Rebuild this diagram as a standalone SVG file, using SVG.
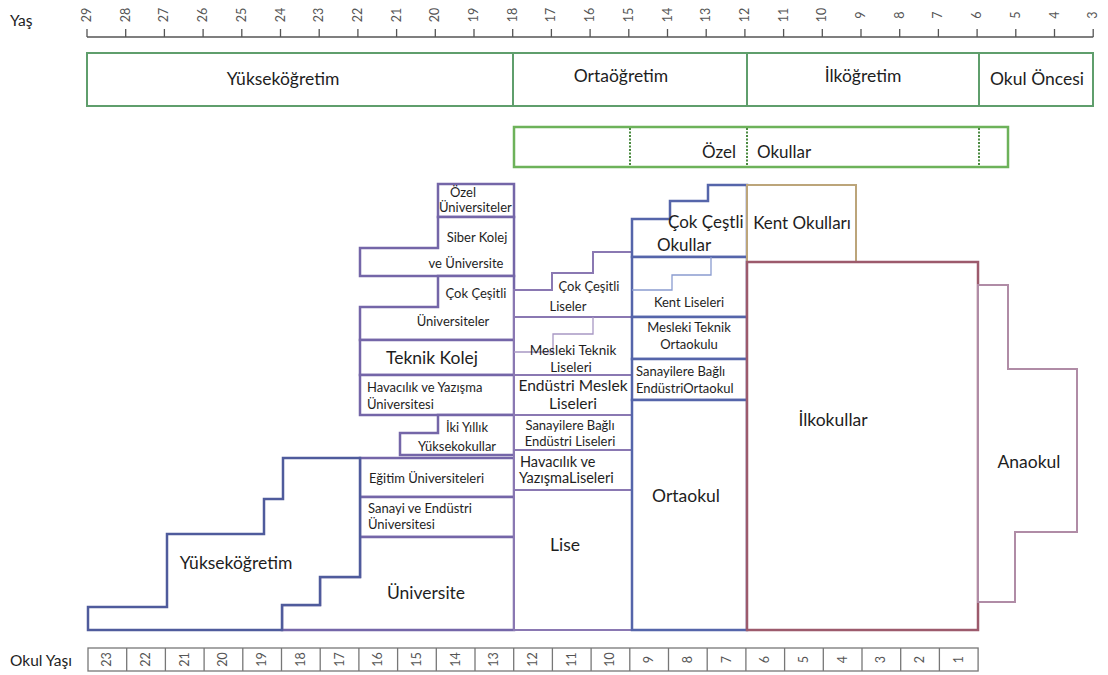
<svg xmlns="http://www.w3.org/2000/svg" width="1108" height="675" viewBox="0 0 1108 675">
<style>
text { font-family: Lato, "Liberation Sans", sans-serif; fill: #1e1e1e; }
.c { text-anchor: middle; }
.ax { font-size: 12.5px; fill: #555; text-anchor: middle; }
.s { font-size: 13px; }
.m { font-size: 15.5px; }
.n { font-size: 14.5px; }
.k { font-size: 17px; }
.l { font-size: 17.5px; }
.lvl { fill: #fff; stroke: #5f9e6c; stroke-width: 2; }
.uni { fill: #fff; stroke: #7466a8; stroke-width: 2.5; }
.yuk { fill: #fff; stroke: #4f5b9c; stroke-width: 2.5; }
.lis { fill: #fff; stroke: #8a78b2; stroke-width: 2; }
.oo { fill: #fff; stroke: #5565aa; stroke-width: 2.5; }
.thin { fill: none; stroke: #8a9cd0; stroke-width: 1.3; }
.thinp { fill: none; stroke: #a898c4; stroke-width: 1.3; }
</style>
<rect width="1108" height="675" fill="#fff"/>

<g id="age-axis">
<text x="10" y="26" class="m">Yaş</text>
<line x1="87" y1="37" x2="1093.2" y2="37" stroke="#555" stroke-width="1.5"/>
<path d="M87 29V37M125.7 29V37M164.4 29V37M203.1 29V37M241.8 29V37M280.5 29V37M319.2 29V37M357.9 29V37M396.6 29V37M435.3 29V37M474 29V37M512.7 29V37M551.4 29V37M590.1 29V37M628.8 29V37M667.5 29V37M706.2 29V37M744.9 29V37M783.6 29V37M822.3 29V37M861 29V37M899.7 29V37M938.4 29V37M977.1 29V37M1015.8 29V37M1054.5 29V37M1093.2 29V37" stroke="#555" stroke-width="1.3" fill="none"/>
<text class="ax" transform="translate(87,15) rotate(-90)" y="4">29</text>
<text class="ax" transform="translate(125.7,15) rotate(-90)" y="4">28</text>
<text class="ax" transform="translate(164.4,15) rotate(-90)" y="4">27</text>
<text class="ax" transform="translate(203.1,15) rotate(-90)" y="4">26</text>
<text class="ax" transform="translate(241.8,15) rotate(-90)" y="4">25</text>
<text class="ax" transform="translate(280.5,15) rotate(-90)" y="4">24</text>
<text class="ax" transform="translate(319.2,15) rotate(-90)" y="4">23</text>
<text class="ax" transform="translate(357.9,15) rotate(-90)" y="4">22</text>
<text class="ax" transform="translate(396.6,15) rotate(-90)" y="4">21</text>
<text class="ax" transform="translate(435.3,15) rotate(-90)" y="4">20</text>
<text class="ax" transform="translate(474,15) rotate(-90)" y="4">19</text>
<text class="ax" transform="translate(512.7,15) rotate(-90)" y="4">18</text>
<text class="ax" transform="translate(551.4,15) rotate(-90)" y="4">17</text>
<text class="ax" transform="translate(590.1,15) rotate(-90)" y="4">16</text>
<text class="ax" transform="translate(628.8,15) rotate(-90)" y="4">15</text>
<text class="ax" transform="translate(667.5,15) rotate(-90)" y="4">14</text>
<text class="ax" transform="translate(706.2,15) rotate(-90)" y="4">13</text>
<text class="ax" transform="translate(744.9,15) rotate(-90)" y="4">12</text>
<text class="ax" transform="translate(783.6,15) rotate(-90)" y="4">11</text>
<text class="ax" transform="translate(822.3,15) rotate(-90)" y="4">10</text>
<text class="ax" transform="translate(861,15) rotate(-90)" y="4">9</text>
<text class="ax" transform="translate(899.7,15) rotate(-90)" y="4">8</text>
<text class="ax" transform="translate(938.4,15) rotate(-90)" y="4">7</text>
<text class="ax" transform="translate(977.1,15) rotate(-90)" y="4">6</text>
<text class="ax" transform="translate(1015.8,15) rotate(-90)" y="4">5</text>
<text class="ax" transform="translate(1054.5,15) rotate(-90)" y="4">4</text>
<text class="ax" transform="translate(1093.2,15) rotate(-90)" y="4">3</text>
</g>

<g id="level-yuksekogretim"><rect class="lvl" x="87" y="53" width="426" height="53"/><text class="l c" x="283" y="85">Yükseköğretim</text></g>
<g id="level-ortaogretim"><rect class="lvl" x="513" y="53" width="234" height="53"/><text class="l c" x="621" y="82">Ortaöğretim</text></g>
<g id="level-ilkogretim"><rect class="lvl" x="747" y="53" width="232" height="53"/><text class="l c" x="863" y="82">İlköğretim</text></g>
<g id="level-okuloncesi"><rect class="lvl" x="979" y="53" width="114" height="53"/><text class="l c" x="1037" y="85">Okul Öncesi</text></g>

<g id="ozel-okullar">
<rect x="514" y="127" width="494" height="40" fill="#fff" stroke="#6db25a" stroke-width="2.5"/>
<path d="M630 128V166M747 128V166M979 128V166" stroke="#4a8a40" stroke-width="2" stroke-dasharray="2 1.5" fill="none"/>
<text class="k" x="736" y="158" text-anchor="end">Özel</text>
<text class="k" x="757" y="158">Okullar</text>
</g>

<g id="ozel-universiteler"><rect class="uni" x="438" y="184" width="76" height="33"/><text class="s" x="450" y="197">Özel</text><text class="s" x="439" y="212">Üniversiteler</text></g>
<g id="siber-kolej"><polygon class="uni" points="438,217 514,217 514,276 360,276 360,248 438,248"/><text class="s c" x="477" y="242">Siber Kolej</text><text class="s c" x="466" y="268">ve Üniversite</text></g>
<g id="cok-cesitli-universiteler"><polygon class="uni" points="438,276 514,276 514,340 360,340 360,307 438,307"/><text class="s c" x="476" y="298">Çok Çeşitli</text><text class="s c" x="453" y="326">Üniversiteler</text></g>
<g id="teknik-kolej"><rect class="uni" x="360" y="340" width="154" height="35"/><text class="l c" x="432" y="364">Teknik Kolej</text></g>
<g id="havacilik-universitesi"><rect class="uni" x="360" y="375" width="154" height="40"/><text class="s" x="367" y="392">Havacılık ve Yazışma</text><text class="s" x="367" y="409">Üniversitesi</text></g>
<g id="iki-yillik"><polygon class="uni" points="438,415 514,415 514,455 400,455 400,433 438,433"/><text class="s c" x="467" y="432">İki Yıllık</text><text class="s c" x="457" y="451">Yüksekokullar</text></g>
<g id="egitim-universiteleri"><rect class="uni" x="360" y="458" width="154" height="39"/><text class="s" x="369" y="483">Eğitim Üniversiteleri</text></g>
<g id="sanayi-universitesi"><rect class="uni" x="360" y="497" width="154" height="40"/><text class="s" x="368" y="513">Sanayi ve Endüstri</text><text class="s" x="368" y="529">Üniversitesi</text></g>
<g id="universite"><polygon class="uni" points="360,537 514,537 514,630 282,630 282,605 320,605 320,577 360,577"/><text class="l c" x="426" y="599">Üniversite</text></g>
<g id="yuksekogretim-area"><polygon class="yuk" points="88,607 167,607 167,534 264,534 264,499 283,499 283,458 360,458 360,577 320,577 320,605 282,605 282,630 88,630"/><text class="l c" x="236" y="569">Yükseköğretim</text></g>

<g id="cok-cesitli-liseler"><polygon class="lis" points="514,290 552,290 552,273 593,273 593,252 632,252 632,317 514,317"/><text class="s c" x="589" y="291">Çok Çeşitli</text><text class="s c" x="568" y="311">Liseler</text></g>
<g id="mesleki-teknik-liseleri"><rect class="lis" x="514" y="317" width="118" height="58"/><path class="thinp" d="M593 317V334H553V352H514"/><text class="c" x="573" y="355" font-size="13.5">Mesleki Teknik</text><text class="c" x="571" y="372" font-size="13.5">Liseleri</text></g>
<g id="endustri-meslek-liseleri"><rect class="lis" x="514" y="375" width="118" height="40"/><text class="m c" x="573" y="391">Endüstri Meslek</text><text class="m c" x="573" y="409">Liseleri</text></g>
<g id="sanayilere-bagli-liseler"><rect class="lis" x="514" y="415" width="118" height="35"/><text class="s c" x="570" y="430">Sanayilere Bağlı</text><text class="s c" x="570" y="446">Endüstri Liseleri</text></g>
<g id="havacilik-liseleri"><rect class="lis" x="514" y="450" width="118" height="40"/><text class="n" x="520" y="467">Havacılık  ve</text><text class="n" x="519" y="483">YazışmaLiseleri</text></g>
<g id="lise"><rect class="lis" x="514" y="490" width="118" height="140"/><text class="l c" x="565" y="551">Lise</text></g>

<g id="cok-cestli-okullar"><polygon class="oo" points="632,219 670,219 670,201 708,201 708,185 747,185 747,257 632,257"/><text class="k" x="668" y="228">Çok Çeştli</text><text class="k" x="657" y="251">Okullar</text></g>
<g id="kent-liseleri"><rect class="oo" x="632" y="257" width="115" height="60"/><path class="thin" d="M711 257V275H672V290H632"/><text class="s c" x="689" y="307">Kent Liseleri</text></g>
<g id="mesleki-teknik-ortaokulu"><rect class="oo" x="632" y="317" width="115" height="42"/><text class="s c" x="689" y="332">Mesleki Teknik</text><text class="s c" x="689" y="349">Ortaokulu</text></g>
<g id="sanayilere-bagli-ortaokul"><rect class="oo" x="632" y="359" width="115" height="41"/><text class="s" x="636" y="376">Sanayilere Bağlı</text><text class="s" x="636" y="393">EndüstriOrtaokul</text></g>
<g id="ortaokul"><rect class="oo" x="632" y="400" width="115" height="230"/><text class="l c" x="686" y="502">Ortaokul</text></g>

<g id="kent-okullari"><rect x="747" y="185" width="109" height="77" fill="#fff" stroke="#bca57a" stroke-width="2"/><text class="k c" x="802" y="229">Kent Okulları</text></g>
<g id="ilkokullar"><rect x="747" y="262" width="231" height="368" fill="#fff" stroke="#9c5a6c" stroke-width="2.5"/><text class="l c" x="833" y="426">İlkokullar</text></g>
<g id="anaokul"><polygon points="978,285 1008,285 1008,369 1077,369 1077,532 1015,532 1015,602 978,602" fill="#fff" stroke="#b08ca6" stroke-width="2"/><text class="l c" x="1029" y="468">Anaokul</text></g>

<g id="connectors"></g>

<g id="school-age-axis">
<text x="10" y="666" class="m">Okul Yaşı</text>
<rect x="88" y="648" width="890.1" height="23" fill="#fff" stroke="#777" stroke-width="1.3"/>
<path d="M126.7 648V671M165.4 648V671M204.1 648V671M242.8 648V671M281.5 648V671M320.2 648V671M358.9 648V671M397.6 648V671M436.3 648V671M475 648V671M513.7 648V671M552.4 648V671M591.1 648V671M629.8 648V671M668.5 648V671M707.2 648V671M745.9 648V671M784.6 648V671M823.3 648V671M862 648V671M900.7 648V671M939.4 648V671" stroke="#777" stroke-width="1.3" fill="none"/>
<text class="ax" transform="translate(107.35,659.5) rotate(-90)" y="4">23</text>
<text class="ax" transform="translate(146.05,659.5) rotate(-90)" y="4">22</text>
<text class="ax" transform="translate(184.75,659.5) rotate(-90)" y="4">21</text>
<text class="ax" transform="translate(223.45,659.5) rotate(-90)" y="4">20</text>
<text class="ax" transform="translate(262.15,659.5) rotate(-90)" y="4">19</text>
<text class="ax" transform="translate(300.85,659.5) rotate(-90)" y="4">18</text>
<text class="ax" transform="translate(339.55,659.5) rotate(-90)" y="4">17</text>
<text class="ax" transform="translate(378.25,659.5) rotate(-90)" y="4">16</text>
<text class="ax" transform="translate(416.95,659.5) rotate(-90)" y="4">15</text>
<text class="ax" transform="translate(455.65,659.5) rotate(-90)" y="4">14</text>
<text class="ax" transform="translate(494.35,659.5) rotate(-90)" y="4">13</text>
<text class="ax" transform="translate(533.05,659.5) rotate(-90)" y="4">12</text>
<text class="ax" transform="translate(571.75,659.5) rotate(-90)" y="4">11</text>
<text class="ax" transform="translate(610.45,659.5) rotate(-90)" y="4">10</text>
<text class="ax" transform="translate(649.15,659.5) rotate(-90)" y="4">9</text>
<text class="ax" transform="translate(687.85,659.5) rotate(-90)" y="4">8</text>
<text class="ax" transform="translate(726.55,659.5) rotate(-90)" y="4">7</text>
<text class="ax" transform="translate(765.25,659.5) rotate(-90)" y="4">6</text>
<text class="ax" transform="translate(803.95,659.5) rotate(-90)" y="4">5</text>
<text class="ax" transform="translate(842.65,659.5) rotate(-90)" y="4">4</text>
<text class="ax" transform="translate(881.35,659.5) rotate(-90)" y="4">3</text>
<text class="ax" transform="translate(920.05,659.5) rotate(-90)" y="4">2</text>
<text class="ax" transform="translate(958.75,659.5) rotate(-90)" y="4">1</text>
</g>
</svg>
